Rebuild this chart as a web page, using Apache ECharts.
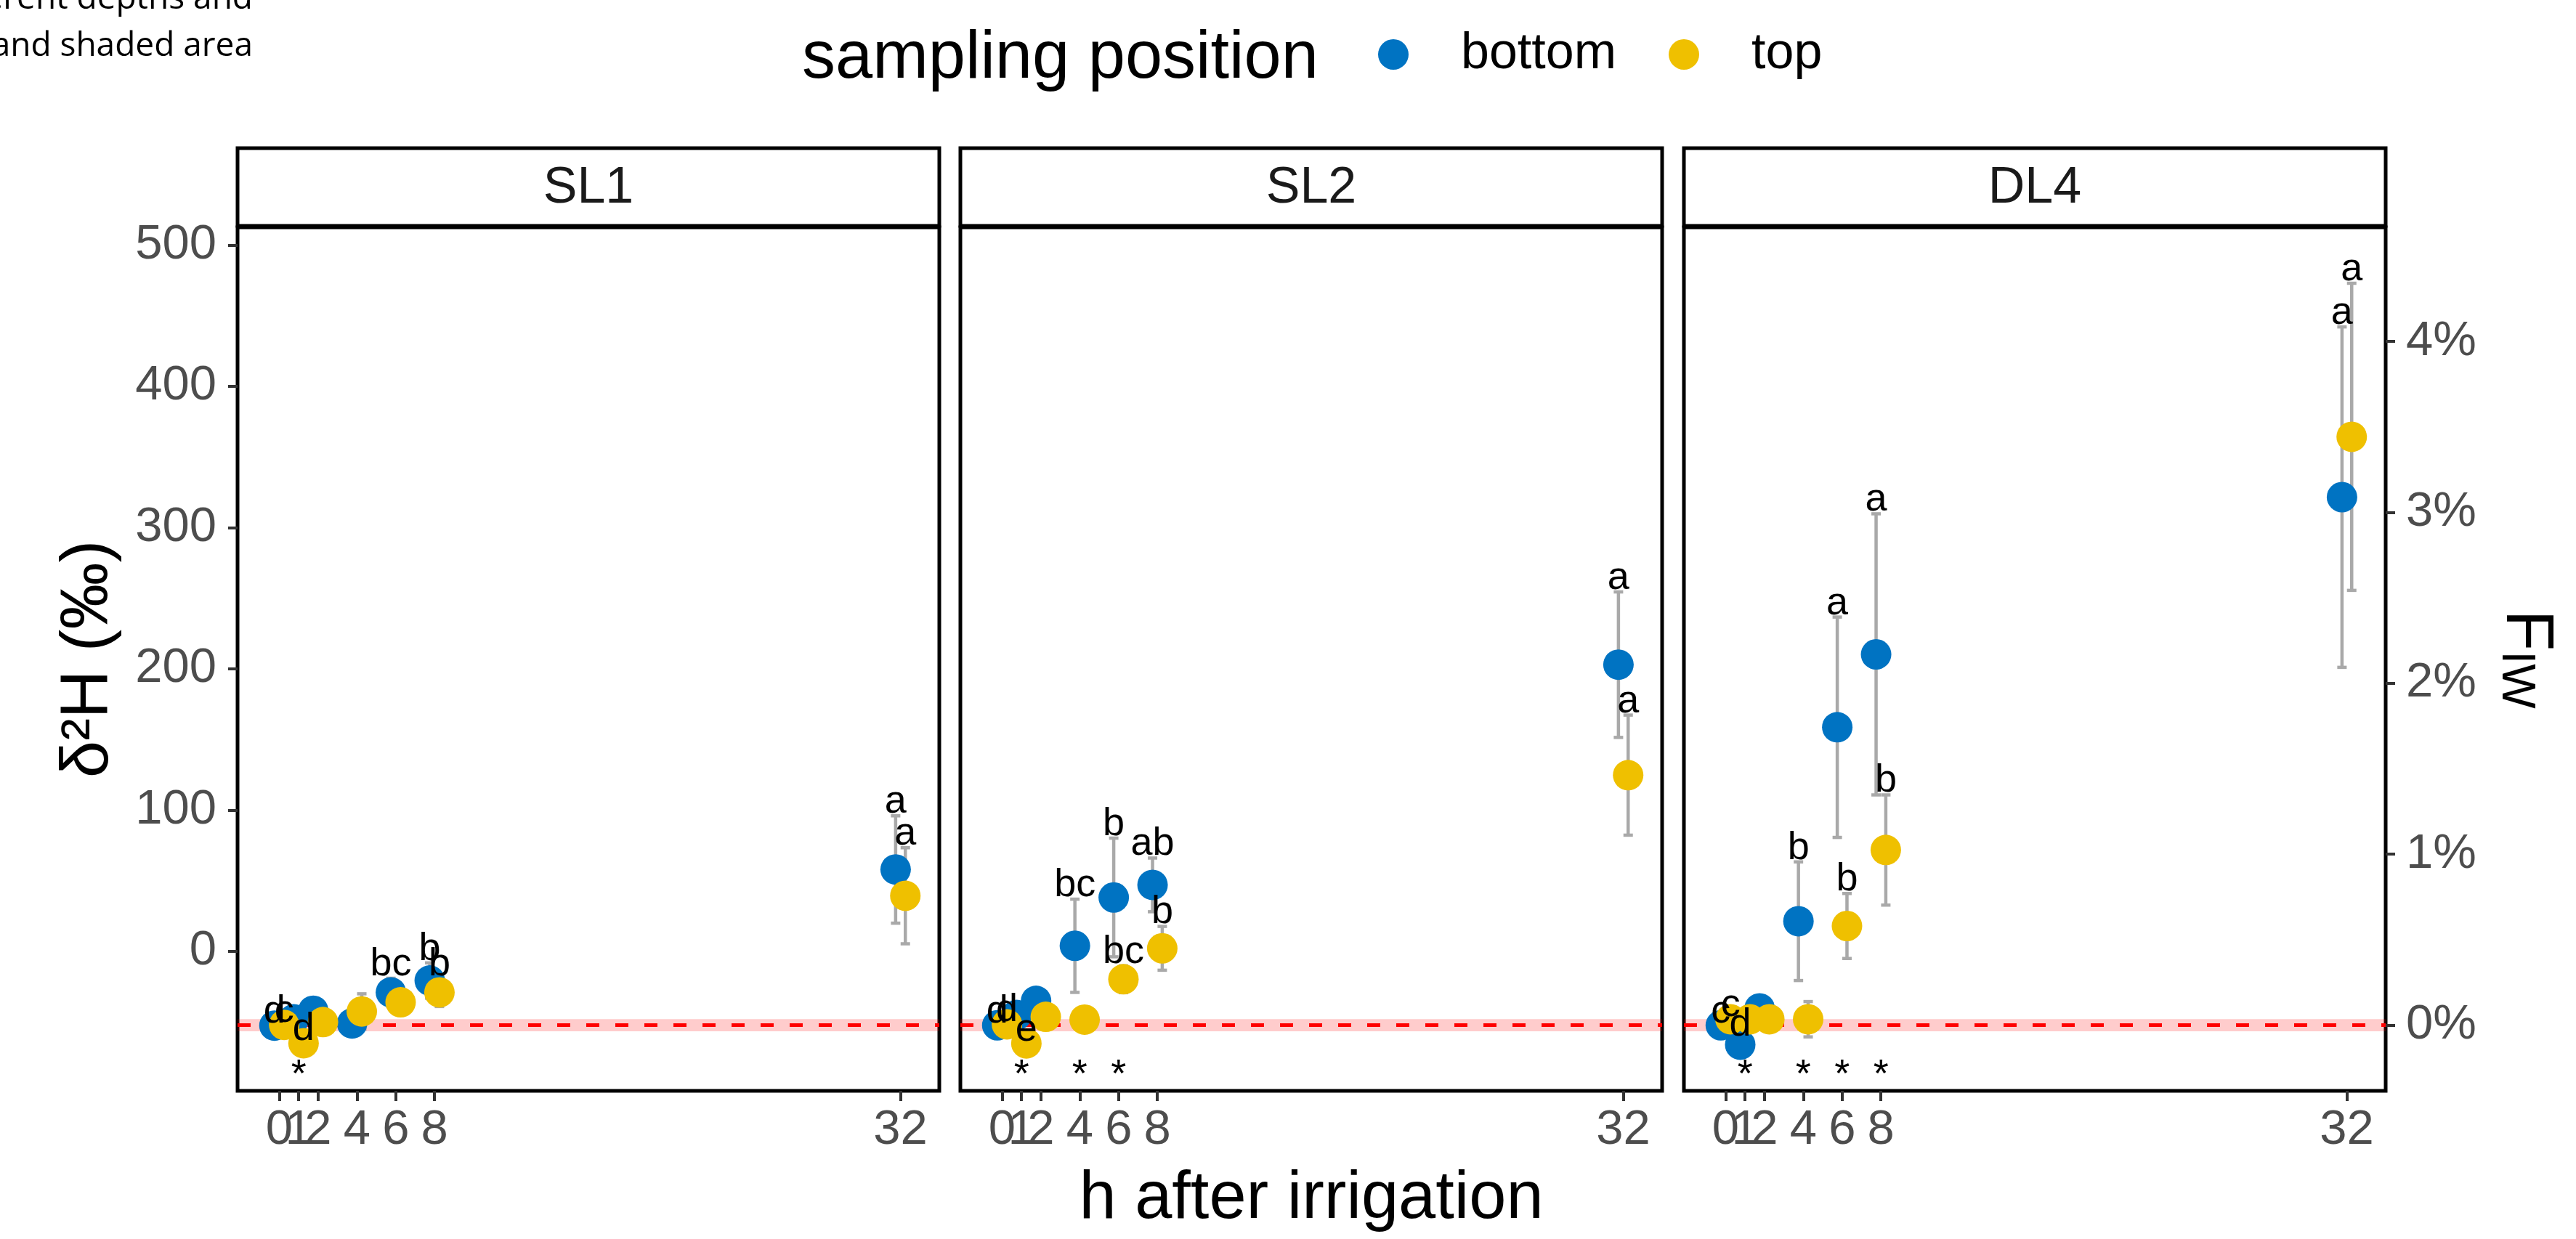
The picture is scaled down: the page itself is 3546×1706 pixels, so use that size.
<!DOCTYPE html>
<html>
<head>
<meta charset="utf-8">
<title>δ²H after irrigation</title>
<script src="https://cdn.jsdelivr.net/npm/echarts@6.0.0/dist/echarts.min.js"></script>
<style>
  html, body { margin: 0; padding: 0; background: #fff; }
  #chart { width: 3546px; height: 1706px; }
</style>
</head>
<body>
<div id="chart"></div>
<script>
// sampling times (h after irrigation)
const hours = [0, 1, 2, 4, 6, 8, 32];

// SL1
const sl1Bottom = [-52.5, -48, -42, -51, -29, -20.6, 58];
const sl1BottomErr = [0, 0, 4, 4, 10, 12.5, 38];
const sl1Top = [-52, -65, -50, -42.5, -36, -29, 39.4];
const sl1TopErr = [0, 0, 4, 12.5, 6, 10, 34];
const sl1BottomLetters = ["d", "", "", "", "bc", "b", "a"];
const sl1TopLetters = ["c", "d", "", "", "", "b", "a"];
const sl1Stars = [1];

// SL2
const sl2Bottom = [-52.3, -45, -35, 4, 38.2, 47.1, 203];
const sl2BottomErr = [0, 0, 3, 33, 42, 19, 51.5];
const sl2Top = [-51.6, -65.1, -46.3, -48.3, -19.7, 2.2, 124.8];
const sl2TopErr = [0, 0, 3, 0, 9.5, 15.5, 42.5];
const sl2BottomLetters = ["d", "", "", "bc", "b", "ab", "a"];
const sl2TopLetters = ["d", "e", "", "", "bc", "b", "a"];
const sl2Stars = [1, 4, 6];

// DL4
const dl4Bottom = [-52.3, -66, -40.3, 21.4, 158.7, 210.3, 321.6];
const dl4BottomErr = [0, 4.3, 3, 42, 78, 99.5, 120.5];
const dl4Top = [-48, -48, -48, -48, 18, 71.8, 364.3];
const dl4TopErr = [0, 0, 0, 12.5, 23, 39, 108.7];
const dl4BottomLetters = ["c", "d", "", "b", "a", "a", "a"];
const dl4TopLetters = ["c", "", "", "", "b", "b", "a"];
const dl4Stars = [1, 4, 6, 8];

// reference (irrigation-free) level and its shaded range, in ‰
const refLevel = -52.2;
const refBand = 4.3;
const permillPerPercent = 121; // 1 % F_IW in δ²H units
const starLevel = -88;

const yTicks = [0, 100, 200, 300, 400, 500];
const fTicks = [0, 1, 2, 3, 4];

const panels = [
  { name: "SL1", bottom: sl1Bottom, bottomErr: sl1BottomErr, top: sl1Top, topErr: sl1TopErr,
    bottomLetters: sl1BottomLetters, topLetters: sl1TopLetters, stars: sl1Stars },
  { name: "SL2", bottom: sl2Bottom, bottomErr: sl2BottomErr, top: sl2Top, topErr: sl2TopErr,
    bottomLetters: sl2BottomLetters, topLetters: sl2TopLetters, stars: sl2Stars },
  { name: "DL4", bottom: dl4Bottom, bottomErr: dl4BottomErr, top: dl4Top, topErr: dl4TopErr,
    bottomLetters: dl4BottomLetters, topLetters: dl4TopLetters, stars: dl4Stars },
];

const FONT = '"Liberation Sans", Arial, Helvetica, sans-serif';
const BLUE = "#0073C2";
const YELLOW = "#EFC000";
const ERR_GREY = "#A9A9A9";

// layout
const panelLeft = [327, 1322, 2318];
const panelWidth = 966;
const panelTop = 313;
const panelHeight = 1189;
const stripTop = 204;
const xMin = -2.15;
const xMax = 34.0;
const yMin = -98.7;
const yMax = 512.6;
const dodge = 0.25;

// echarts drops the 2nd label when the 1st and 2nd overlap (0 and 1 do here),
// so hand the tick values over with 32 first; the order does not change placement
const hourTicks = [hours[hours.length - 1], ...hours.slice(0, -1)];

const toPercent = (v) => (v - refLevel) / permillPerPercent;

const errorBarItem = (params, api) => {
  const lo = api.coord([api.value(0), api.value(1)]);
  const hi = api.coord([api.value(0), api.value(2)]);
  const half = 6.5;
  const style = { stroke: ERR_GREY, lineWidth: 4.5 };
  return {
    type: "group",
    children: [
      { type: "line", shape: { x1: hi[0], y1: hi[1], x2: lo[0], y2: lo[1] }, style },
      { type: "line", shape: { x1: hi[0] - half, y1: hi[1], x2: hi[0] + half, y2: hi[1] }, style },
      { type: "line", shape: { x1: lo[0] - half, y1: lo[1], x2: lo[0] + half, y2: lo[1] }, style },
    ],
  };
};

const letterItem = (params, api) => {
  const p = api.coord([api.value(0), api.value(1)]);
  return {
    type: "text",
    x: p[0],
    y: p[1] + 8,
    style: {
      text: api.value(2),
      font: `54px ${FONT}`,
      fill: "#000",
      textAlign: "center",
      textVerticalAlign: "bottom",
      align: "center",
      verticalAlign: "bottom",
    },
  };
};

const starItem = (params, api) => {
  const p = api.coord([api.value(0), api.value(1)]);
  return {
    type: "text",
    x: p[0],
    y: p[1],
    style: {
      text: "*",
      font: `54px ${FONT}`,
      fill: "#000",
      textAlign: "center",
      textVerticalAlign: "middle",
      align: "center",
      verticalAlign: "middle",
    },
  };
};

const refItem = (params, api) => {
  const cs = params.coordSys;
  const yLo = api.coord([0, api.value(0)])[1];
  const yHi = api.coord([0, api.value(1)])[1];
  const yMid = api.coord([0, api.value(2)])[1];
  return {
    type: "group",
    children: [
      { type: "rect", shape: { x: cs.x, y: yHi, width: cs.width, height: yLo - yHi },
        style: { fill: "rgba(255, 0, 0, 0.2)" } },
      { type: "line", shape: { x1: cs.x, y1: yMid, x2: cs.x + cs.width, y2: yMid },
        style: { stroke: "#FF0000", lineWidth: 5, lineDash: [18, 22] } },
    ],
  };
};

const series = [];
const grids = [];
const xAxes = [];
const yAxes = [];
const graphics = [];

panels.forEach((panel, i) => {
  grids.push({
    left: panelLeft[i],
    top: panelTop,
    width: panelWidth,
    height: panelHeight,
    show: true,
    borderColor: "#000",
    borderWidth: 5,
    backgroundColor: "rgba(0,0,0,0)",
    outerBoundsMode: "none",
  });

  xAxes.push({
    type: "value",
    gridIndex: i,
    min: xMin,
    max: xMax,
    position: "bottom",
    axisLine: { show: false, onZero: false },
    axisTick: { show: true, length: 14, customValues: hourTicks, lineStyle: { color: "#333333", width: 4 } },
    axisLabel: {
      show: true, customValues: hourTicks, fontSize: 67, color: "#4D4D4D", fontFamily: FONT, margin: 21,
      showMinLabel: true, showMaxLabel: true, hideOverlap: false,
    },
    splitLine: { show: false },
    name: i === 1 ? "h after irrigation" : "",
    nameLocation: "middle",
    nameGap: 104,
    nameMoveOverlap: false,
    nameTextStyle: { fontSize: 92, color: "#000", fontFamily: FONT },
  });

  yAxes.push({
    type: "value",
    gridIndex: i,
    min: yMin,
    max: yMax,
    show: i === 0,
    position: "left",
    axisLine: { show: false, onZero: false },
    axisTick: { show: true, length: 13, customValues: yTicks, lineStyle: { color: "#333333", width: 4 } },
    axisLabel: {
      show: true, customValues: yTicks, fontSize: 67, color: "#4D4D4D", fontFamily: FONT, margin: 29,
      showMinLabel: true, showMaxLabel: true,
    },
    splitLine: { show: false },
    name: i === 0 ? "δ²H (‰)" : "",
    nameLocation: "middle",
    nameRotate: 90,
    nameGap: 158,
    nameMoveOverlap: false,
    nameTextStyle: { fontSize: 92, color: "#000", fontFamily: FONT },
  });

  const ax = { xAxisIndex: i, yAxisIndex: i };

  series.push({
    type: "custom", ...ax, z: 1, silent: true,
    renderItem: refItem,
    data: [[refLevel - refBand, refLevel + refBand, refLevel]],
  });

  const groups = [
    { name: "bottom", color: BLUE, means: panel.bottom, errs: panel.bottomErr, letters: panel.bottomLetters, shift: -dodge },
    { name: "top", color: YELLOW, means: panel.top, errs: panel.topErr, letters: panel.topLetters, shift: dodge },
  ];

  groups.forEach((g) => {
    series.push({
      type: "custom", ...ax, z: 2, silent: true,
      renderItem: errorBarItem,
      encode: { x: 0, y: [1, 2] },
      data: hours
        .map((h, k) => [h + g.shift, g.means[k] - g.errs[k], g.means[k] + g.errs[k]])
        .filter((r) => r[2] > r[1]),
    });
  });

  groups.forEach((g) => {
    series.push({
      type: "scatter", name: g.name, ...ax, z: 3,
      symbol: "circle",
      symbolSize: 42,
      itemStyle: { color: g.color, opacity: 1 },
      emphasis: { disabled: true },
      data: hours.map((h, k) => [h + g.shift, g.means[k]]),
    });
  });

  groups.forEach((g) => {
    series.push({
      type: "custom", ...ax, z: 4, silent: true,
      renderItem: letterItem,
      encode: { x: 0, y: 1 },
      data: hours
        .map((h, k) => [h + g.shift, g.means[k] + g.errs[k], g.letters[k]])
        .filter((r) => r[2]),
    });
  });

  series.push({
    type: "custom", ...ax, z: 4, silent: true,
    renderItem: starItem,
    data: panel.stars.map((h) => [h, starLevel]),
  });

  // facet strip
  graphics.push({
    type: "rect",
    shape: { x: panelLeft[i], y: stripTop, width: panelWidth, height: panelTop - stripTop - 2 },
    style: { fill: "#fff", stroke: "#000", lineWidth: 5 },
  });
  graphics.push({
    type: "text",
    x: panelLeft[i] + panelWidth / 2,
    y: 260,
    style: { text: panel.name, font: `70px ${FONT}`, fill: "#1A1A1A", textAlign: "center", textVerticalAlign: "middle" },
  });
});

// secondary axis: share of irrigation water
yAxes.push({
  type: "value",
  gridIndex: 2,
  position: "right",
  min: toPercent(yMin),
  max: toPercent(yMax),
  axisLine: { show: false, onZero: false },
  axisTick: { show: true, length: 13, customValues: fTicks, lineStyle: { color: "#333333", width: 4 } },
  axisLabel: {
    show: true, customValues: fTicks, fontSize: 67, color: "#4D4D4D", fontFamily: FONT, margin: 28,
    showMinLabel: true, showMaxLabel: true,
    formatter: (v) => `${v}%`,
  },
  splitLine: { show: false },
  name: "{f|F}{s|IW}",
  nameLocation: "middle",
  nameRotate: -90,
  nameGap: 146,
  nameMoveOverlap: false,
  nameTextStyle: {
    rich: {
      f: { fontSize: 93, fontFamily: FONT, color: "#000" },
      s: { fontSize: 65, fontFamily: FONT, color: "#000", verticalAlign: "bottom", lineHeight: 28 },
    },
  },
});

// legend title
graphics.push({
  type: "text",
  x: 1104,
  y: 82,
  style: { text: "sampling position", font: `92px ${FONT}`, fill: "#000", textAlign: "left", textVerticalAlign: "middle" },
});

// cropped caption fragment at top left
graphics.push({
  type: "text",
  x: 348,
  y: -1,
  style: { text: "erent depths and", font: '46px "Open Sans", sans-serif', fill: "#000", textAlign: "right", textVerticalAlign: "middle" },
});
graphics.push({
  type: "text",
  x: 348,
  y: 64,
  style: { text: "and shaded area", font: '46px "Open Sans", sans-serif', fill: "#000", textAlign: "right", textVerticalAlign: "middle" },
});

const option = {
  animation: false,
  backgroundColor: "#fff",
  textStyle: { fontFamily: FONT },
  legend: {
    data: ["bottom", "top"],
    left: 1892,
    top: 35,
    icon: "circle",
    itemWidth: 42,
    itemHeight: 42,
    itemGap: 72,
    selectedMode: false,
    textStyle: { fontSize: 70, color: "#000", fontFamily: FONT, padding: [0, 0, 0, 67] },
  },
  grid: grids,
  xAxis: xAxes,
  yAxis: yAxes,
  series,
  graphic: graphics,
};

const chart = echarts.init(document.getElementById("chart"), null, { renderer: "canvas" });
chart.setOption(option);
</script>
</body>
</html>
